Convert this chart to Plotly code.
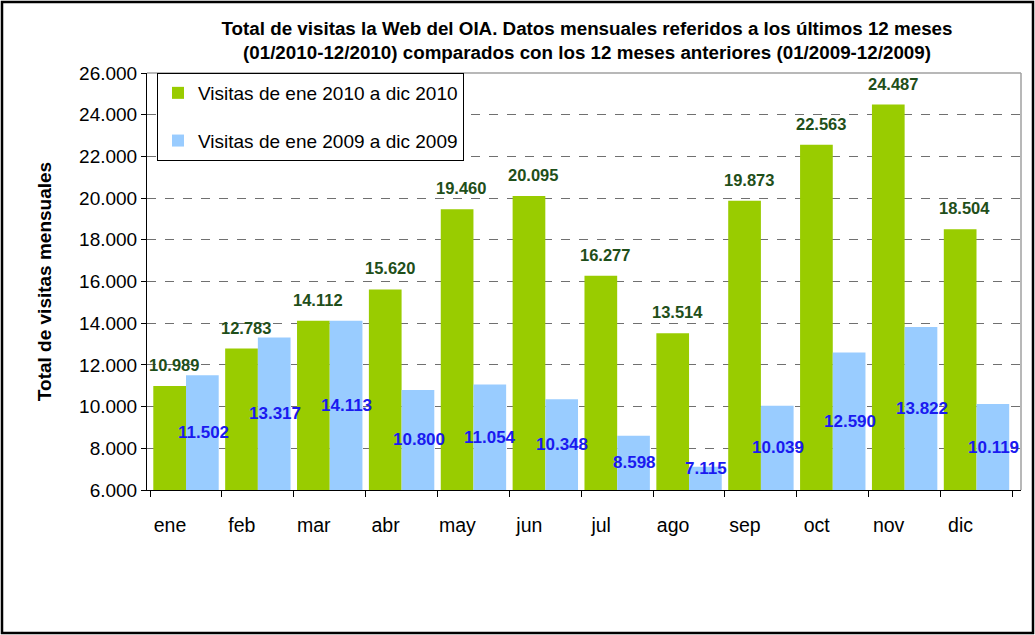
import plotly.graph_objects as go

months = ["ene", "feb", "mar", "abr", "may", "jun", "jul", "ago", "sep", "oct", "nov", "dic"]
visitas_2010 = [10989, 12783, 14112, 15620, 19460, 20095, 16277, 13514, 19873, 22563, 24487, 18504]
visitas_2009 = [11502, 13317, 14113, 10800, 11054, 10348, 8598, 7115, 10039, 12590, 13822, 10119]
name_2010 = "Visitas de ene 2010 a dic 2010"
name_2009 = "Visitas de ene 2009 a dic 2009"
title_text = ("Total de visitas la Web del OIA. Datos mensuales referidos a los últimos 12 meses<br>"
              "(01/2010-12/2010) comparados con los 12 meses anteriores (01/2009-12/2009)")
y_title = "Total de visitas mensuales"
y_min, y_max, y_step = 6000, 26000, 2000

GREEN = "#99CC00"
BLUE = "#99CCFF"
FONT = "Liberation Sans, Arial, sans-serif"

def fmt(v):
    return f"{v:,}".replace(",", ".")

W, H = 1035, 635
L, R, T, B = 147, 14, 73, 145
pw, ph = W - L - R, H - T - B

fig = go.Figure()
fig.add_trace(go.Bar(x=months, y=visitas_2010, name=name_2010, marker_color=GREEN,
                     marker_line_width=0, legendgroup="a"))
fig.add_trace(go.Bar(x=months, y=visitas_2009, name=name_2009, marker_color=BLUE,
                     marker_line_width=0, legendgroup="b"))

annotations = []
for m, v in zip(months, visitas_2010):
    annotations.append(dict(x=m, y=v, xref="x", yref="y", text=fmt(v), showarrow=False,
                            xshift=-17 + 5, yshift=21, yanchor="middle",
                            font=dict(family=FONT, size=16.5, color="#1F4F1A", weight="bold")))
for m, v in zip(months, visitas_2009):
    # centred in the visible part of the bar, kept clear of the axis line
    y_lab = max((y_min + v) / 2, y_min + 1050)
    annotations.append(dict(x=m, y=y_lab, xref="x", yref="y", text=fmt(v), showarrow=False,
                            xshift=17, yanchor="middle",
                            font=dict(family=FONT, size=17, color="#1A1AF0", weight="bold")))

shapes = [
    # plot area border (gray), top and right sides
    dict(type="line", xref="paper", yref="paper", x0=0, x1=1, y0=1, y1=1,
         line=dict(color="#A0A0A0", width=1.5), layer="above"),
    dict(type="line", xref="paper", yref="paper", x0=1, x1=1, y0=0, y1=1,
         line=dict(color="#A0A0A0", width=1.5), layer="above"),
    # outer chart frame
    dict(type="rect", xref="paper", yref="paper",
         x0=(2 - L) / pw, x1=(W - 2 - L) / pw,
         y0=-(H - 2 - T - ph) / ph, y1=(T - 2) / ph + 1,
         line=dict(color="black", width=2.5)),
]

fig.update_layout(
    width=W, height=H, autosize=False,
    margin=dict(l=L, r=R, t=T, b=B, pad=0, autoexpand=False),
    paper_bgcolor="white", plot_bgcolor="white",
    separators=",.",
    barmode="group", bargap=0.09, bargroupgap=0,
    font=dict(family=FONT, color="black"),
    title=dict(text=title_text, x=587 / W, xanchor="center", xref="container",
               y=1 - 35 / H, yanchor="top", yref="container", automargin=False,
               font=dict(family=FONT, size=18.8, weight="bold", color="black")),
    legend=dict(x=10 / pw, y=1, xanchor="left", yanchor="top", xref="paper", yref="paper",
                bgcolor="white", bordercolor="black", borderwidth=1,
                font=dict(family=FONT, size=19, color="black"),
                traceorder="grouped", tracegroupgap=20, itemwidth=30,
                entrywidth=325),
    xaxis=dict(showline=True, linecolor="black", linewidth=1, ticks="outside", tickson="boundaries",
               ticklen=6, tickcolor="black", tickfont=dict(family=FONT, size=19.5, color="black"),
               ticklabelstandoff=18, ticklabelshift=-16, showgrid=False, automargin=False),
    yaxis=dict(range=[y_min, y_max], tickmode="linear", tick0=y_min, dtick=y_step, tickformat=",d",
               showline=True, linecolor="black", linewidth=1, ticks="outside", ticklen=5,
               tickcolor="black", tickfont=dict(family=FONT, size=19, color="black"),
               showgrid=True, gridcolor="#707070", griddash="dash", gridwidth=1,
               zeroline=False, automargin=False,
               title=dict(text=y_title, standoff=22,
                          font=dict(family=FONT, size=19, weight="bold", color="black"))),
    annotations=annotations,
    shapes=shapes,
)

fig.write_html("out.html", config={"displayModeBar": False},
               post_script="document.body.style.margin='0px';")
